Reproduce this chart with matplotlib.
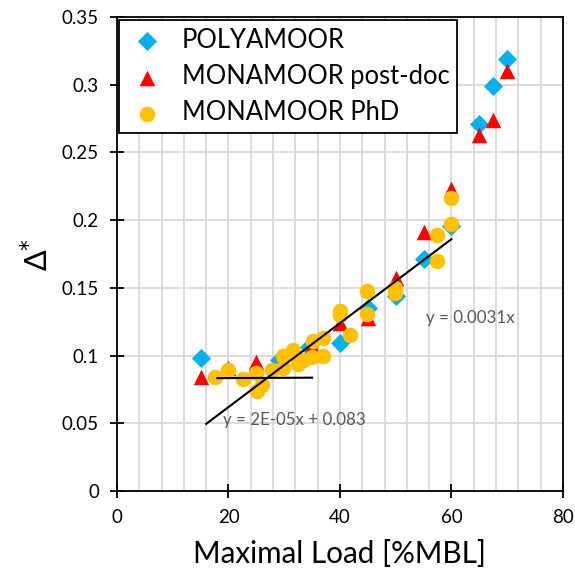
import matplotlib
matplotlib.use("Agg")
import matplotlib.pyplot as plt
import numpy as np
from matplotlib.ticker import MultipleLocator

plt.rcParams['font.family'] = ['Lato', 'DejaVu Sans']

# POLYAMOOR
poly_x = [15, 29, 34.5, 40, 45, 50, 55, 60, 65, 67.5, 70]
poly_y = [0.098, 0.097, 0.106, 0.109, 0.135, 0.144, 0.171, 0.196, 0.271, 0.299, 0.319]

# MONAMOOR post-doc
post_x = [15, 20, 25, 35, 40, 45, 50, 55, 60, 65, 67.5, 70]
post_y = [0.084, 0.091, 0.095, 0.107, 0.124, 0.128, 0.157, 0.191, 0.223, 0.263, 0.274, 0.310]

# MONAMOOR PhD
phd_x = [17.6, 19.9, 22.6, 24.9, 25.1, 26.0, 27.8, 29.8, 29.8, 31.6, 32.5, 33.4,
         35.0, 37.0, 35.2, 37.0, 41.8, 40.0, 40.0, 44.8, 44.8, 49.9, 49.9, 57.4,
         57.4, 60.0, 60.0]
phd_y = [0.084, 0.089, 0.083, 0.087, 0.074, 0.078, 0.089, 0.091, 0.100, 0.104, 0.094, 0.097,
         0.099, 0.100, 0.111, 0.113, 0.115, 0.133, 0.130, 0.148, 0.131, 0.150, 0.146, 0.170,
         0.189, 0.197, 0.216]

# trendlines
fit1_slope = 0.0031
fit1_range = [16, 60]
fit2_slope = 2e-05
fit2_icpt = 0.083
fit2_range = [18, 35]

fig = plt.figure(figsize=(5.75, 5.77), dpi=100)
ax = fig.add_axes([0.2035, 0.149, 0.7755, 0.8215])

ax.set_xlim(0, 80)
ax.set_ylim(0, 0.35)
ax.xaxis.set_major_locator(MultipleLocator(20))
ax.xaxis.set_minor_locator(MultipleLocator(4))

ax.grid(True, which='both', axis='x', color='#d9d9d9', linewidth=1.3, zorder=0)
ax.grid(True, which='major', axis='y', color='#d9d9d9', linewidth=1.3, zorder=0)
ax.set_axisbelow(True)

ax.scatter(poly_x, poly_y, marker='D', s=95, color='#00b0f0', linewidths=0, zorder=3, label='POLYAMOOR')
ax.scatter(post_x, post_y, marker='^', s=125, color='#ff0000', linewidths=0, zorder=4, label='MONAMOOR post-doc')
ax.scatter(phd_x, phd_y, marker='o', s=125, color='#ffc000', linewidths=0, zorder=5, label='MONAMOOR PhD')

x1 = np.array(fit1_range)
ax.plot(x1, fit1_slope * x1, color='black', linewidth=1.5, zorder=6)
x2 = np.array(fit2_range)
ax.plot(x2, fit2_slope * x2 + fit2_icpt, color='black', linewidth=1.5, zorder=6)

ax.text(55.4, 0.1275, 'y = 0.0031x', color='#595959', fontsize=12.2, va='center', zorder=7)
ax.text(19.0, 0.0523, 'y = 2E-05x + 0.083', color='#595959', fontsize=12.2, va='center', zorder=7)

for sp in ax.spines.values():
    sp.set_color('black')
    sp.set_linewidth(1.3)

ax.tick_params(axis='both', which='major', direction='inout', length=10, width=1.3,
               labelsize=13.5, colors='black')
ax.tick_params(axis='x', which='minor', length=0)
ax.tick_params(axis='x', which='major', pad=8)
ax.tick_params(axis='y', which='major', pad=8)

ax.set_yticks([0, 0.05, 0.1, 0.15, 0.2, 0.25, 0.3, 0.35])
ax.set_yticklabels(['0', '0.05', '0.1', '0.15', '0.2', '0.25', '0.3', '0.35'])

ax.set_xlabel('Maximal Load [%MBL]', fontsize=21.3, labelpad=10)
ax.set_ylabel('Δ$^{*}$', fontsize=22, labelpad=6)

leg = ax.legend(loc='upper left', bbox_to_anchor=(0.005, 0.993), fontsize=18.4,
                frameon=True, fancybox=False, edgecolor='black', framealpha=1,
                borderpad=0.3, handletextpad=0.55, labelspacing=0.44, borderaxespad=0,
                handlelength=1.6, scatterpoints=1)
leg.get_frame().set_linewidth(1.3)

fig.savefig('out.png', dpi=100)
